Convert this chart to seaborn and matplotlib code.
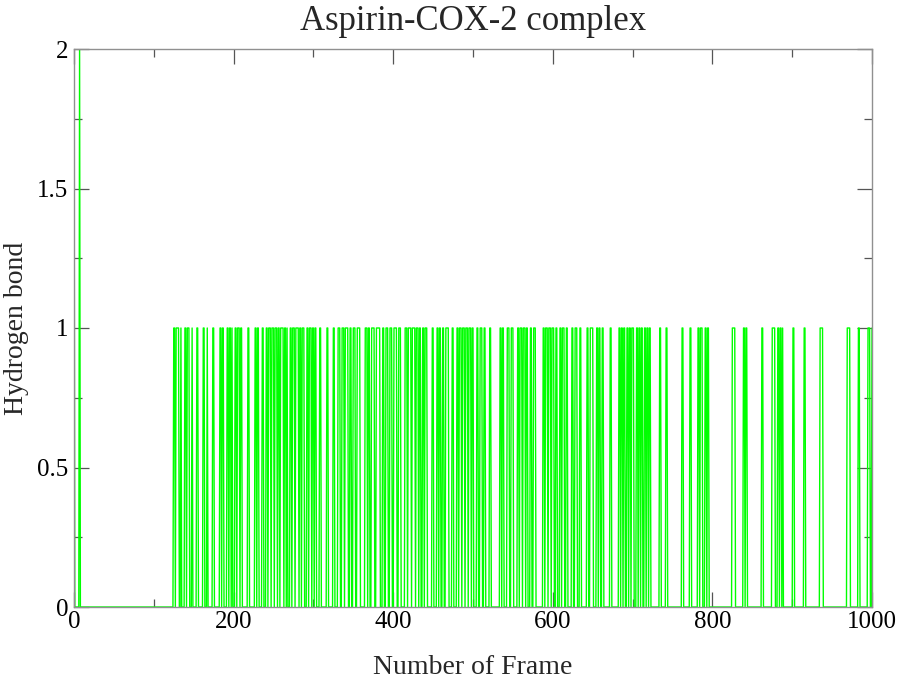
import numpy as np
import pandas as pd
import matplotlib
matplotlib.use("Agg")
import matplotlib.pyplot as plt
import seaborn as sns
from matplotlib.ticker import MultipleLocator

# ---- data ----
n_frames = 1000
# frames at which two hydrogen bonds are present
two_bond_frames = [0, 7]
# (start, end) frame ranges with one hydrogen bond
one_bond_ranges = [
    (125, 126), (128, 129), (130, 131), (134, 134), (139, 140), (142, 144), (148, 148),
    (154, 155), (162, 163), (167, 167), (174, 175), (183, 184), (186, 187), (192, 193),
    (195, 196), (198, 198), (202, 203), (205, 207), (209, 210), (218, 219), (227, 228),
    (230, 231), (236, 237), (241, 242), (244, 246), (248, 250), (252, 254), (256, 257),
    (259, 262), (264, 265), (267, 267), (271, 272), (274, 276), (278, 281), (283, 284),
    (286, 288), (292, 293), (295, 297), (299, 300), (302, 303), (308, 309), (317, 318),
    (325, 326), (331, 333), (336, 338), (340, 343), (346, 347), (350, 352), (355, 358),
    (365, 367), (369, 370), (373, 376), (379, 383), (387, 388), (391, 393), (396, 398),
    (401, 404), (407, 409), (415, 417), (419, 422), (424, 427), (429, 431), (433, 434),
    (437, 438), (440, 442), (449, 450), (455, 456), (458, 459), (462, 463), (466, 469),
    (474, 475), (480, 481), (483, 485), (487, 489), (491, 493), (495, 497), (499, 500),
    (505, 506), (509, 511), (514, 515), (521, 522), (534, 535), (537, 538), (543, 545),
    (548, 550), (556, 557), (559, 561), (563, 565), (567, 568), (572, 573), (576, 578),
    (588, 589), (591, 593), (595, 597), (599, 601), (604, 605), (609, 610), (612, 614),
    (617, 618), (624, 625), (628, 630), (634, 635), (643, 644), (647, 650), (655, 656),
    (658, 659), (662, 663), (672, 673), (683, 684), (686, 687), (689, 690), (693, 694),
    (696, 697), (699, 701), (705, 706), (708, 709), (711, 712), (715, 716), (718, 719),
    (721, 722), (734, 735), (742, 743), (762, 763), (772, 773), (782, 783), (785, 787),
    (791, 792), (794, 795), (825, 826), (827, 828), (839, 840), (842, 843), (862, 863),
    (875, 876), (877, 878), (882, 883), (885, 886), (888, 888), (901, 902), (915, 916),
    (935, 936), (937, 938), (969, 970), (971, 972), (983, 984), (995, 997), (1000, 1000),
]

frames = np.arange(0, n_frames + 1)
hbonds = np.zeros(len(frames))
for s, e in one_bond_ranges:
    hbonds[s:e + 1] = 1
for f in two_bond_frames:
    hbonds[f] = 2
df = pd.DataFrame({"frame": frames, "hbond": hbonds})

xticks = [0, 200, 400, 600, 800, 1000]
yticks = [0, 0.5, 1, 1.5, 2]
ytick_labels = ["0", "0.5", "1", "1.5", "2"]

# ---- style ----
sns.set_theme(style="white")
plt.rcParams["font.family"] = ["Liberation Serif", "DejaVu Serif"]

fig = plt.figure(figsize=(8.99, 6.81), dpi=100)
ax = fig.add_axes([74 / 899, 1 - 607 / 681, (872 - 74) / 899, (607 - 49) / 681])

sns.lineplot(data=df, x="frame", y="hbond", ax=ax, color="#00ff00",
             linewidth=1.0, estimator=None, errorbar=None)

ax.set_xlim(0, 1000)
ax.set_ylim(0, 2)
ax.set_xticks(xticks)
ax.set_yticks(yticks)
ax.set_yticklabels(ytick_labels)
ax.xaxis.set_minor_locator(MultipleLocator(100))
ax.yaxis.set_minor_locator(MultipleLocator(0.25))

for sp in ax.spines.values():
    sp.set_color("#909090")
    sp.set_linewidth(1.0)

ax.tick_params(axis="both", which="major", direction="in", length=11, width=0.9,
               color="#555555", labelsize=18, top=True, right=True,
               bottom=True, left=True, labelcolor="black")
ax.tick_params(axis="both", which="minor", direction="in", length=5.5, width=0.9,
               color="#555555", top=True, right=True, bottom=True, left=True)
ax.tick_params(axis="y", which="major", pad=4)
ax.tick_params(axis="x", which="major", pad=3)

ax.set_xlabel("Number of Frame", fontsize=20)
ax.xaxis.label.set_va("center")
ax.xaxis.set_label_coords(0.5, -(667 - 607) / (607 - 49))
ax.set_ylabel("Hydrogen bond", fontsize=20)
ax.yaxis.label.set_va("center")
ax.yaxis.set_label_coords(-(74 - 16) / (872 - 74), 0.5)
ax.set_title("Aspirin-COX-2 complex", fontsize=25, pad=14)
ax.grid(False)

fig.savefig("out.png", dpi=100)
